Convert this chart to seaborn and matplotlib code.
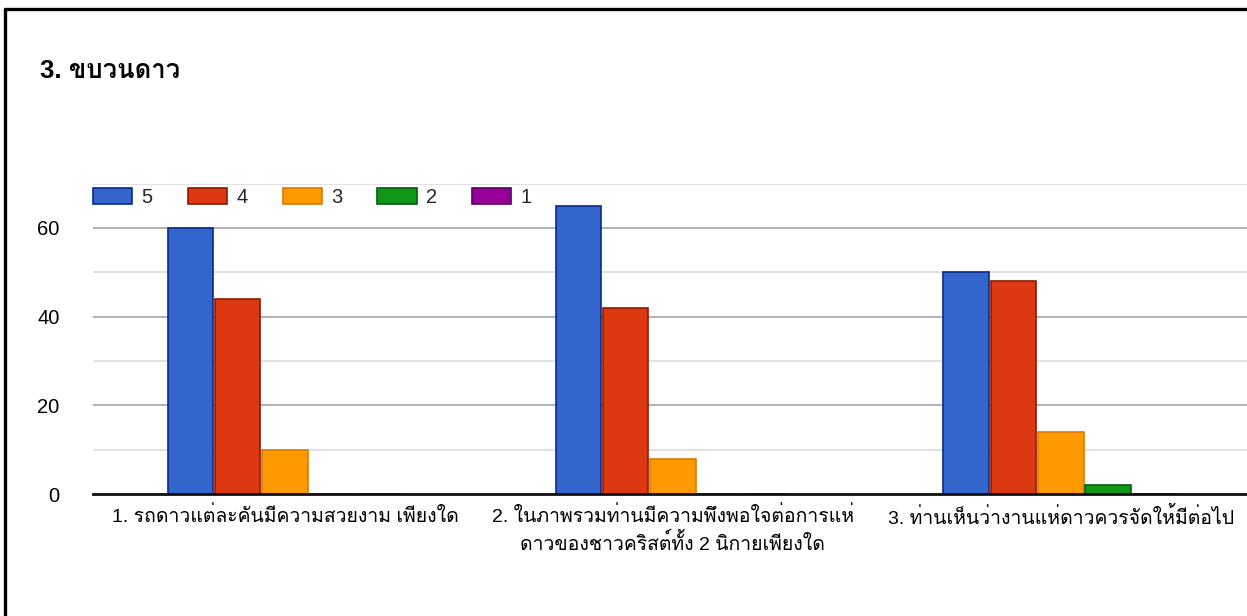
import pandas as pd
import matplotlib.pyplot as plt
import seaborn as sns
from matplotlib import font_manager
from matplotlib.ft2font import FT2Font
from matplotlib.lines import Line2D
from matplotlib.ticker import MultipleLocator

# ---- data ----
QUESTIONS = [
    "1. รถดาวแต่ละคันมีความสวยงาม เพียงใด",
    "2. ในภาพรวมท่านมีความพึงพอใจต่อการแห่\nดาวของชาวคริสต์ทั้ง 2 นิกายเพียงใด",
    "3. ท่านเห็นว่างานแห่ดาวควรจัดให้มีต่อไป",
]
RATINGS = ["5", "4", "3", "2", "1"]
SCORE_5 = [60, 65, 50]
SCORE_4 = [44, 42, 48]
SCORE_3 = [10, 8, 14]
SCORE_2 = [0, 0, 2]
SCORE_1 = [0, 0, 0]
TITLE = "3. ขบวนดาว"

FILL = {"5": "#3366cc", "4": "#dc3912", "3": "#ff9900", "2": "#109618", "1": "#990099"}
EDGE = {"5": "#0a2a8c", "4": "#8c1a05", "3": "#d97b00", "2": "#0a5a0e", "1": "#5a005a"}


def find_thai_font():
    for f in font_manager.fontManager.ttflist:
        try:
            if 0x0E02 in FT2Font(f.fname).get_charmap():
                return f.name
        except Exception:
            pass
    return None


rows = []
for rating, vals in zip(RATINGS, [SCORE_5, SCORE_4, SCORE_3, SCORE_2, SCORE_1]):
    for q, v in zip(QUESTIONS, vals):
        rows.append({"question": q, "rating": rating, "count": v})
df = pd.DataFrame(rows)

sns.set_theme(style="white")
thai = find_thai_font()
families = ["Liberation Sans"]
if thai:
    families.append(thai)
families.append("DejaVu Sans")
plt.rcParams["font.family"] = families

fig = plt.figure(figsize=(12.47, 6.16), dpi=100)
ax = fig.add_axes([93 / 1247, 1 - 494 / 616, 1 - 93 / 1247, (494 - 183.5) / 616])

sns.barplot(data=df, x="question", y="count", hue="rating", hue_order=RATINGS,
            order=QUESTIONS, palette=FILL, saturation=1, width=0.61, gap=0.04, ax=ax,
            legend=True, zorder=3)

for rating, cont in zip(RATINGS, ax.containers):
    for bar in cont:
        bar.set_edgecolor(EDGE[rating])
        bar.set_linewidth(1.2)

ax.set_ylim(0, 70)
ax.set_xlim(-0.495, 2.48)
ax.yaxis.set_major_locator(MultipleLocator(20))
ax.yaxis.set_minor_locator(MultipleLocator(10))
ax.grid(axis="y", which="major", color="#a6a6a6", linewidth=1.2, zorder=0)
ax.grid(axis="y", which="minor", color="#dcdcdc", linewidth=1.2, zorder=0)
ax.set_axisbelow(True)

for side in ["top", "right", "left"]:
    ax.spines[side].set_visible(False)
ax.spines["bottom"].set_color("#111111")
ax.spines["bottom"].set_linewidth(2.0)
ax.spines["bottom"].set_zorder(5)

ax.tick_params(axis="y", which="both", length=0, pad=24, labelsize=14.5, labelcolor="#000000")
ax.tick_params(axis="x", length=0, pad=9, labelsize=14, labelcolor="#000000")
for lab in ax.get_xticklabels():
    lab.set_linespacing(1.35)
ax.set_xlabel("")
ax.set_ylabel("")

handles, labels = ax.get_legend_handles_labels()
for h, r in zip(handles, labels):
    h.set_edgecolor(EDGE[r])
    h.set_linewidth(1.2)
ax.legend(handles, labels, loc="center left", bbox_to_anchor=(0.0, 0.955), ncol=5,
          frameon=False, borderaxespad=0, borderpad=0, fontsize=14.5,
          handlelength=1.95, handleheight=0.85, handletextpad=0.45, columnspacing=1.75)

fig.text(40 / 1247, 1 - 71 / 616, TITLE, fontsize=18.5, fontweight="bold",
         va="center", ha="left", color="#000000")

# frame of the original screenshot: top and left edges only
fig.add_artist(Line2D([5 / 1247, 1.0], [1 - 9 / 616, 1 - 9 / 616], color="black",
                      linewidth=2.4, transform=fig.transFigure))
fig.add_artist(Line2D([5 / 1247, 5 / 1247], [0.0, 1 - 9 / 616], color="black",
                      linewidth=2.4, transform=fig.transFigure))

fig.savefig("out.png", dpi=100)
plt.close(fig)
